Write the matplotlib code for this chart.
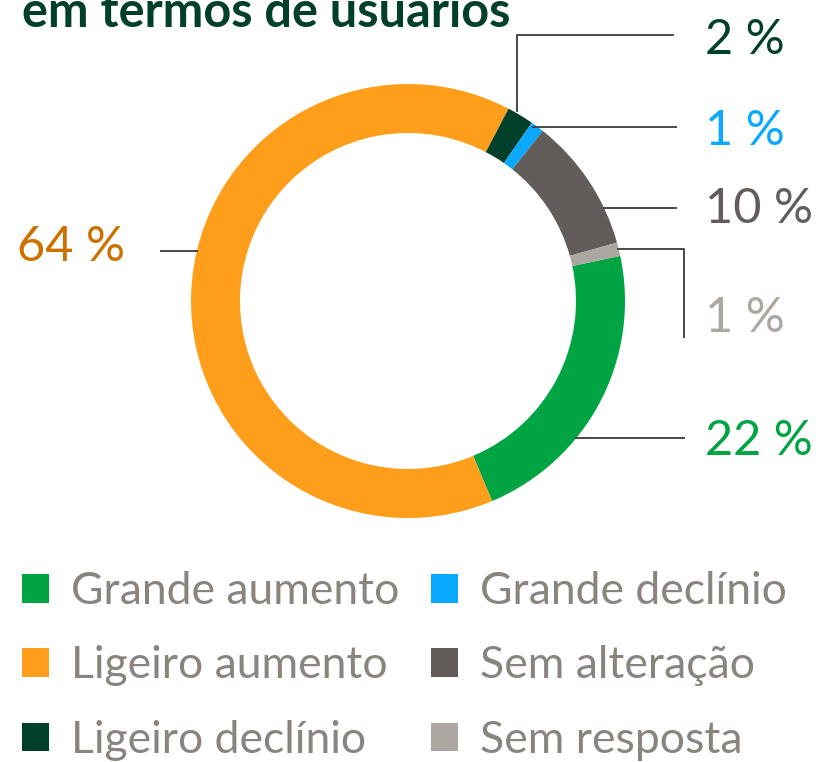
import matplotlib
matplotlib.use("Agg")
import matplotlib.pyplot as plt

# data
labels = ["Grande aumento", "Ligeiro aumento", "Ligeiro declínio",
          "Grande declínio", "Sem alteração", "Sem resposta"]
values = [22, 64, 2, 1, 10, 1]
pct_text = ["22 %", "64 %", "2 %", "1 %", "10 %", "1 %"]
colors = ["#00A443", "#FF9E1B", "#00402A", "#0AA9FF", "#625D5A", "#ADA7A2"]
label_colors = ["#00A443", "#CC7000", "#00402A", "#0AA9FF", "#625D5A", "#ADA7A2"]
title = "em termos de usuários"

W, H = 831, 762
plt.rcParams['font.family'] = ['Lato', 'DejaVu Sans']

fig = plt.figure(figsize=(W / 100, H / 100), dpi=100)
ax = fig.add_axes([0, 0, 1, 1])


def py(y):
    """pixel row (from top) -> data y"""
    return H - y


wedges, _ = ax.pie(values, colors=colors, startangle=12, counterclock=False,
                   center=(408, py(301)), radius=217,
                   wedgeprops=dict(width=49, linewidth=0))
ax.set_xlim(0, W)
ax.set_ylim(0, H)
ax.set_aspect('equal')
ax.axis('off')

# leader lines (pixel layout) and label positions
leaders = [
    [(575, 438), (685, 438)],
    [(160, 251), (198, 251)],
    [(517, 112), (517, 35), (674, 35)],
    [(532, 127), (677, 127)],
    [(603, 208), (677, 208)],
    [(617, 249), (684, 249), (684, 338)],
]
label_pos = [(705, 441), (17, 247), (705, 40), (705, 131), (705, 209), (705, 318)]
for pts, (lx, ly), txt, c in zip(leaders, label_pos, pct_text, label_colors):
    xs = [p[0] for p in pts]
    ys = [py(p[1]) for p in pts]
    ax.plot(xs, ys, color="#3a3a3a", lw=1.3, solid_capstyle='butt', zorder=1)
    ax.text(lx, py(ly), txt, color=c, fontsize=35, va='center', ha='left')

# clipped title line at top
ax.text(22, py(27), title, color="#00402A", fontsize=35, fontweight='bold',
        va='baseline', ha='left')

leg = ax.legend(wedges, labels, ncols=2, loc='upper left',
                bbox_to_anchor=(22 / W, 1 - 571 / H), frameon=False,
                fontsize=32, handlelength=0.61, handleheight=0.61,
                handletextpad=0.5, columnspacing=0.7, labelspacing=0.75,
                borderpad=0, borderaxespad=0)
for t in leg.get_texts():
    t.set_color("#8A847F")

fig.savefig("out.png", dpi=100)
